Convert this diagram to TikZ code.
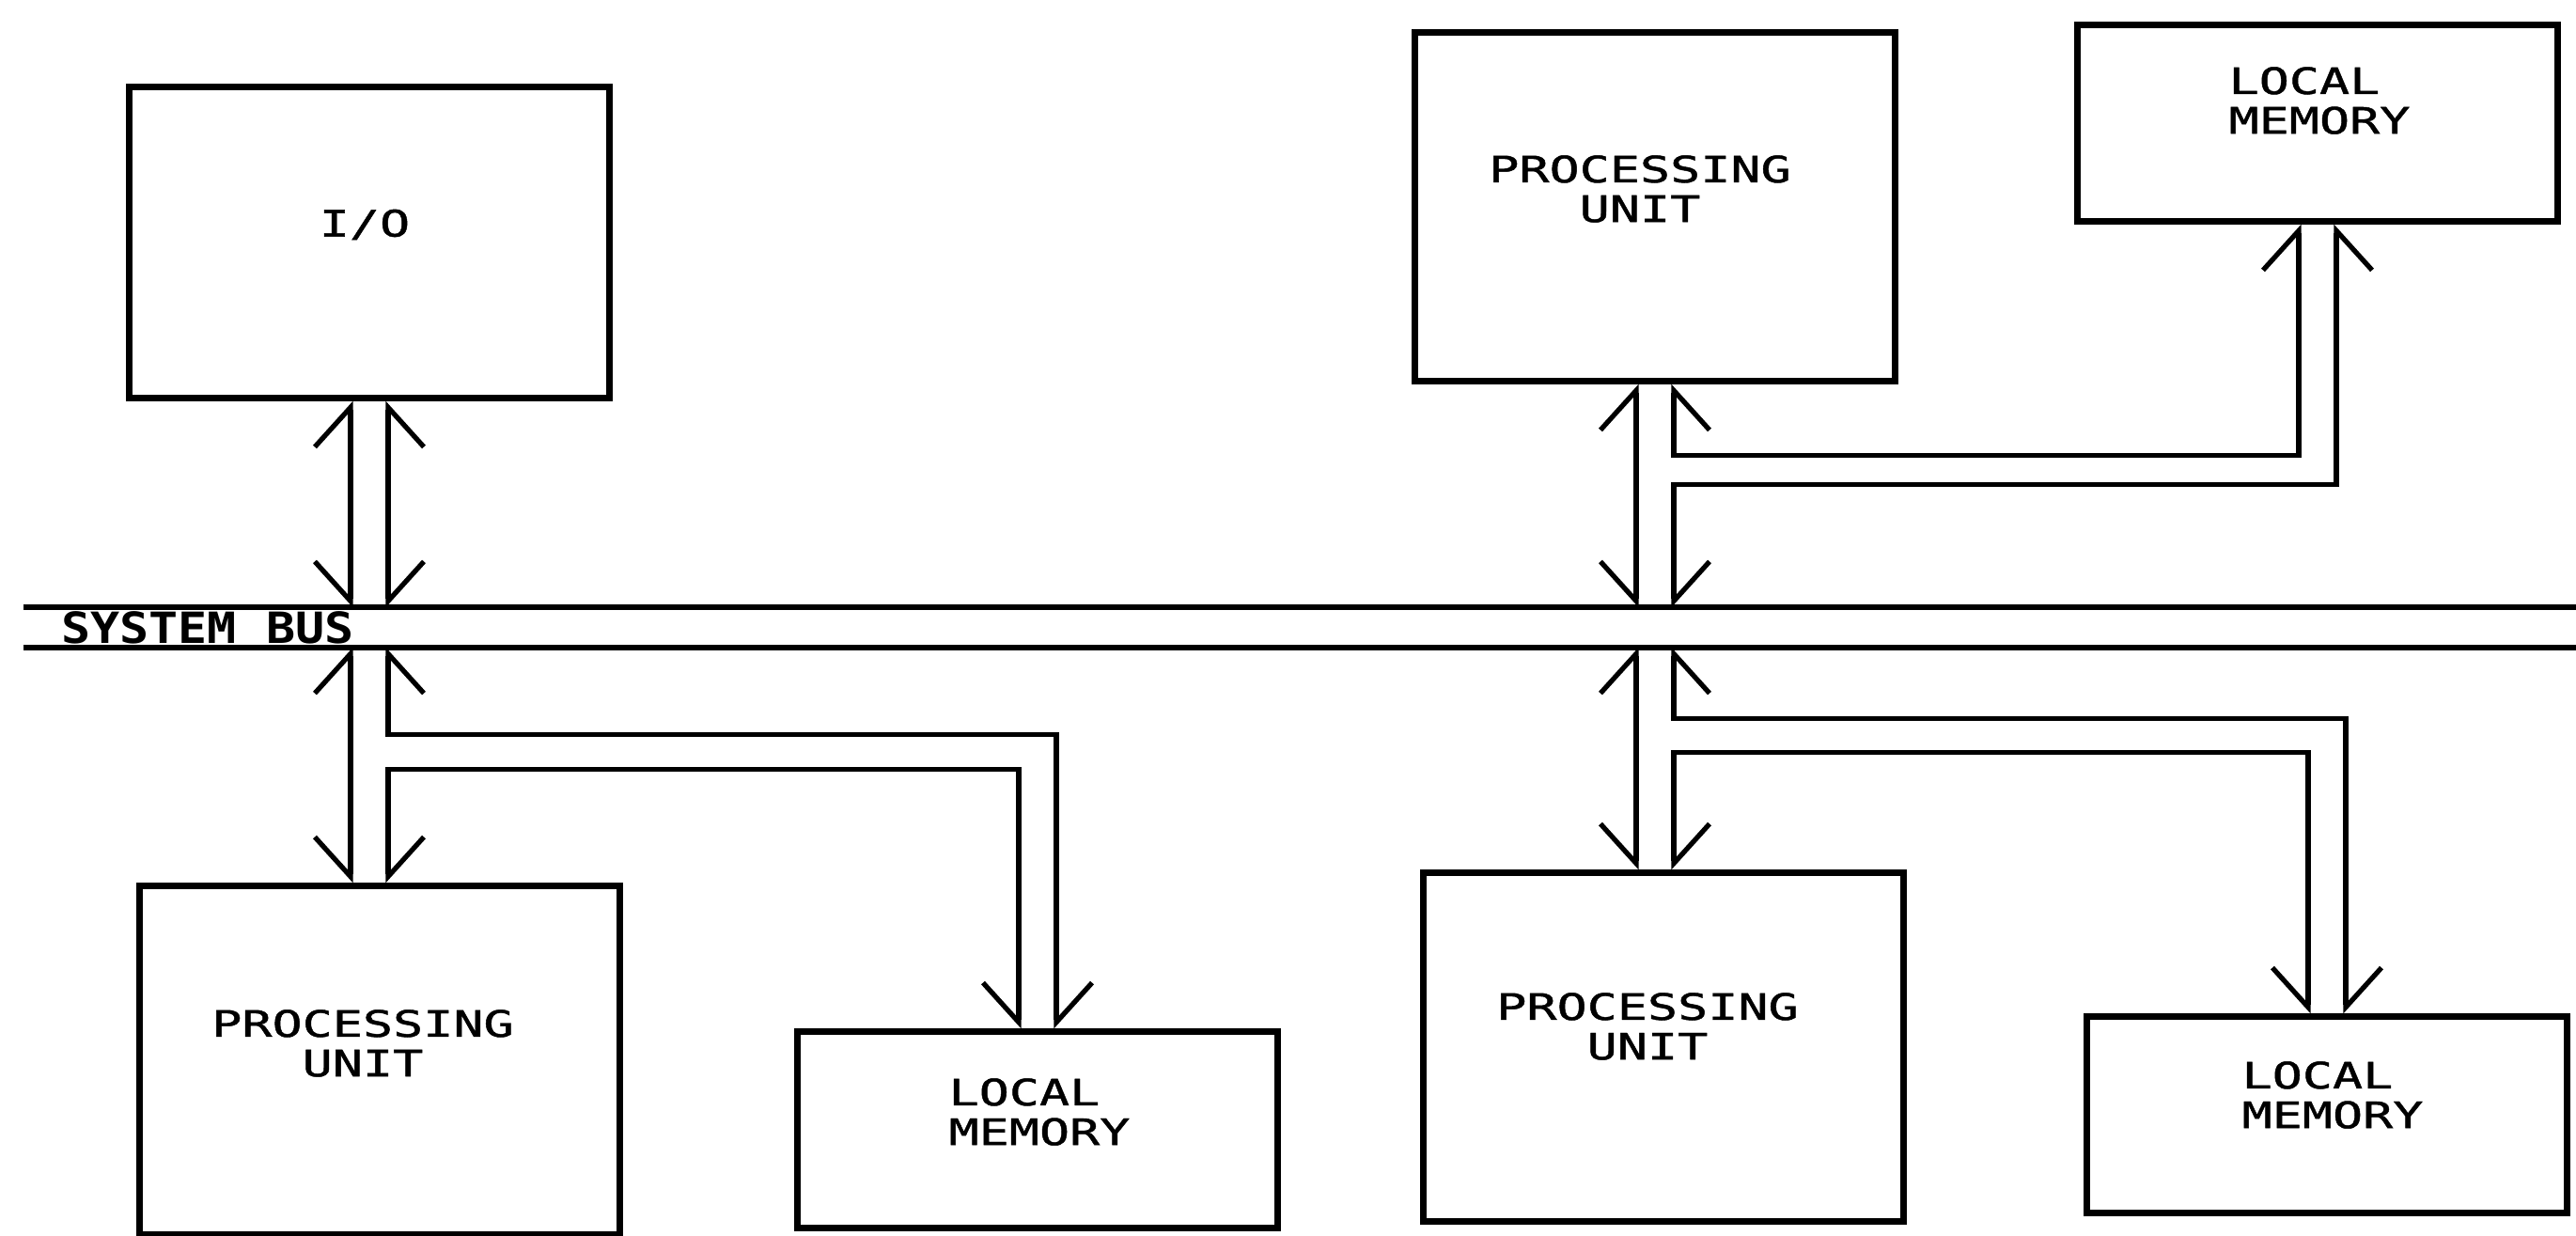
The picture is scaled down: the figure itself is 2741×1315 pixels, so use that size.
\documentclass[tikz,border=0pt]{standalone}
\usepackage{fontspec}
\newfontfamily\plotfont[FakeStretch=1.38, FakeBold=1.2]{DejaVu Sans Mono}
\newfontfamily\busfont[FakeStretch=1.13]{DejaVu Sans Mono}
\usetikzlibrary{arrows.meta, calc}

\begin{document}
\begin{tikzpicture}[
    x=0.01cm, y=-0.01cm,
    hl/.tip={Straight Barb[harpoon, length=4.2mm, width=7.6mm]},
    hr/.tip={Straight Barb[harpoon, swap, length=4.2mm, width=7.6mm]},
    box/.style  ={draw, line width=2pt, minimum width=5.1cm, inner sep=0pt},
    pubox/.style={box, minimum height=3.7cm},
    lmbox/.style={box, minimum height=2.08cm},
    iobox/.style={box, minimum height=3.3cm},
    lbl/.style  ={font=\plotfont\fontsize{11}{12}\selectfont, align=center, inner sep=0pt},
    lmlbl/.style={lbl, align=left},
    wire/.style ={line width=1.5pt},
    busline/.style={line width=1.8pt},
]
\useasboundingbox (0,0) rectangle (2741,1315);

% system bus
\node[minimum width=27.15cm, minimum height=0.41cm, inner sep=0pt] (bus) at (1383.5,667.5) {};
\draw[busline] (bus.north west) -- (bus.north east);
\draw[busline] (bus.south west) -- (bus.south east);
\node[font=\busfont\bfseries\fontsize{13}{13}\selectfont, inner sep=0pt] (buslbl) at (221,667.5) {SYSTEM BUS};

% boxes
\node[iobox] (io)  at (393,258)   {};
\node[pubox] (pu1) at (1761,220)  {};
\node[lmbox] (lm1) at (2466,131)  {};
\node[pubox] (pu2) at (404,1128)  {};
\node[lmbox] (lm2) at (1104,1202) {};
\node[pubox] (pu3) at (1770,1114) {};
\node[lmbox] (lm3) at (2476,1186) {};

\node[lbl]   (io-t)  at ([shift={(-5,-19)}]io.center)  {I/O};
\node[lbl]   (pu1-t) at ([shift={(-16,-19)}]pu1.center) {PROCESSING\\UNIT};
\node[lmlbl] (lm1-t) at ([shift={(2,-24)}]lm1.center)  {LOCAL\\MEMORY};
\node[lbl]   (pu2-t) at ([shift={(-18,-18)}]pu2.center) {PROCESSING\\UNIT};
\node[lmlbl] (lm2-t) at ([shift={(2,-19)}]lm2.center)  {LOCAL\\MEMORY};
\node[lbl]   (pu3-t) at ([shift={(-17,-22)}]pu3.center) {PROCESSING\\UNIT};
\node[lmlbl] (lm3-t) at ([shift={(6,-21)}]lm3.center)  {LOCAL\\MEMORY};

% I/O <-> bus
\draw[wire, {hl}-{hr}] ([xshift=-2mm]io.south) -- ([xshift=-2mm]io.south |- bus.north);
\draw[wire, {hr}-{hl}] ([xshift=2mm]io.south)  -- ([xshift=2mm]io.south |- bus.north);

% bus <-> left processing unit and its local memory
\draw[wire, {hl}-{hr}] ([xshift=-2mm]io.south |- bus.south) -- ([xshift=-2mm]io.south |- pu2.north);
\draw[wire, {hr}-{hl}] ([xshift=2mm]io.south |- bus.south) -- ++(0,93) -| ([xshift=2mm]lm2.north);
\draw[wire, {hl}-{hr}] ([xshift=2mm]io.south |- pu2.north) -- ++(0,-121) -| ([xshift=-2mm]lm2.north);

% upper processing unit <-> bus and its local memory
\draw[wire, {hl}-{hr}] ([xshift=-2mm]pu1.south) -- ([xshift=-2mm]pu1.south |- bus.north);
\draw[wire, {hr}-{hl}] ([xshift=2mm]pu1.south) -- ++(0,76) -| ([xshift=-2mm]lm1.south);
\draw[wire, {hl}-{hr}] ([xshift=2mm]pu1.south |- bus.north) -- ++(0,-131) -| ([xshift=2mm]lm1.south);

% bus <-> lower right processing unit and its local memory
\draw[wire, {hl}-{hr}] ([xshift=-2mm]pu1.south |- bus.south) -- ([xshift=-2mm]pu1.south |- pu3.north);
\draw[wire, {hr}-{hl}] ([xshift=2mm]pu1.south |- bus.south) -- ++(0,76) -| ([xshift=2mm]lm3.north);
\draw[wire, {hl}-{hr}] ([xshift=2mm]pu1.south |- pu3.north) -- ++(0,-125) -| ([xshift=-2mm]lm3.north);
\end{tikzpicture}
\end{document}
